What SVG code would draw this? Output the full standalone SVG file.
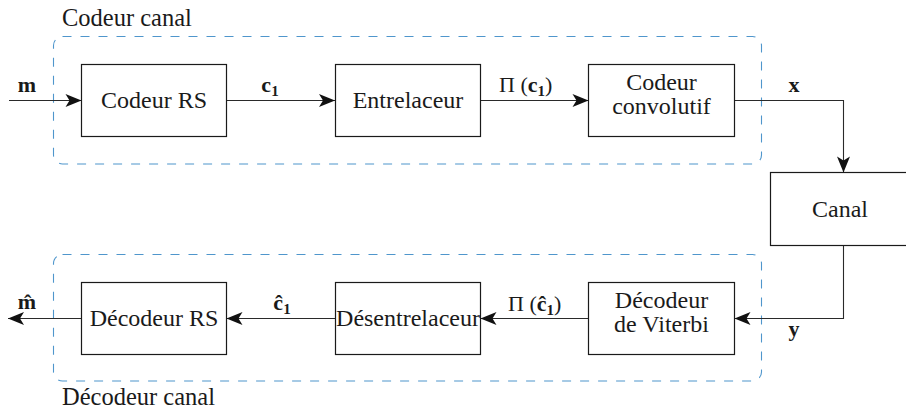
<svg xmlns="http://www.w3.org/2000/svg" width="906" height="412" viewBox="0 0 906 412" font-family="'Liberation Serif', serif">
  <defs>
    <marker id="stealth" markerUnits="userSpaceOnUse" markerWidth="20" markerHeight="16" refX="16" refY="7" orient="auto" overflow="visible">
      <path d="M16,7 L0,0.5 L4,7 L0,13.5 Z" fill="#111"/>
    </marker>
    <style>
      .blk { fill: #fff; stroke: #1a1a1a; stroke-width: 1.2; }
      .grp { fill: none; stroke: #4f96cc; stroke-width: 1.1; stroke-dasharray: 9 9; }
      .wire { fill: none; stroke: #2a2a2a; stroke-width: 1.1; marker-end: url(#stealth); }
      text { font-family: 'Liberation Serif', 'Times New Roman', serif; fill: #1a1a1a; }
      .t { font-size: 24px; text-anchor: middle; }
      .cap { font-size: 24.5px; }
      .lbl { font-size: 22px; font-weight: bold; text-anchor: middle; }
      .sub { font-size: 15px; font-weight: bold; }
      .op { font-size: 22px; }
    </style>
  </defs>

  <!-- dashed sub-system frames -->
  <g id="codeur-canal">
    <rect class="grp" x="53.5" y="36.5" width="708" height="127.5" rx="9"/>
    <text class="cap" x="62" y="26">Codeur canal</text>
  </g>
  <g id="decodeur-canal">
    <rect class="grp" x="53.5" y="254.5" width="708" height="126.5" rx="9"/>
    <text class="cap" x="62" y="405">Décodeur canal</text>
  </g>

  <!-- connectors -->
  <g id="connectors">
    <path class="wire" d="M9,100.5 H81.5"/>
    <path class="wire" d="M226.5,100.5 H335"/>
    <path class="wire" d="M480.5,100.5 H588.5"/>
    <path class="wire" d="M734.5,100.5 H843.5 V172.5"/>
    <path class="wire" d="M843.5,245.5 V318.5 H734.5"/>
    <path class="wire" d="M588.5,318.5 H480.5"/>
    <path class="wire" d="M335.5,318.5 H226.5"/>
    <path class="wire" d="M81.5,318.5 H8"/>

    <!-- signal labels -->
    <text class="lbl" x="27" y="92">m</text>
    <text class="lbl" x="270" y="92">c<tspan class="sub" dy="4">1</tspan></text>
    <text class="op" x="499" y="92">Π (<tspan font-weight="bold">c</tspan><tspan class="sub" dy="4">1</tspan><tspan dy="-4">)</tspan></text>
    <text class="lbl" x="794" y="92">x</text>
    <text class="lbl" x="794" y="336">y</text>
    <text class="op" x="508" y="311">Π (<tspan font-weight="bold">ĉ</tspan><tspan class="sub" dy="4">1</tspan><tspan dy="-4">)</tspan></text>
    <text class="lbl" x="282" y="310">ĉ<tspan class="sub" dy="4">1</tspan></text>
    <text class="lbl" x="27" y="309">m̂</text>
  </g>

  <!-- encoder chain -->
  <g id="codeur-rs">
    <rect class="blk" x="81.5" y="64.5" width="145" height="72"/>
    <text class="t" x="154" y="108">Codeur RS</text>
  </g>
  <g id="entrelaceur">
    <rect class="blk" x="335.5" y="64.5" width="145" height="72"/>
    <text class="t" x="408" y="108">Entrelaceur</text>
  </g>
  <g id="codeur-convolutif">
    <rect class="blk" x="588.5" y="64.5" width="146" height="72"/>
    <text class="t" x="661.5" y="90">Codeur</text>
    <text class="t" x="661.5" y="114">convolutif</text>
  </g>

  <!-- channel -->
  <g id="canal">
    <rect class="blk" x="770.5" y="172.5" width="146" height="73"/>
    <text class="t" x="840" y="217">Canal</text>
  </g>

  <!-- decoder chain -->
  <g id="decodeur-viterbi">
    <rect class="blk" x="588.5" y="282.5" width="146" height="72"/>
    <text class="t" x="661.5" y="308">Décodeur</text>
    <text class="t" x="661.5" y="332">de Viterbi</text>
  </g>
  <g id="desentrelaceur">
    <rect class="blk" x="335.5" y="282.5" width="145" height="72"/>
    <text class="t" x="408" y="326">Désentrelaceur</text>
  </g>
  <g id="decodeur-rs">
    <rect class="blk" x="81.5" y="282.5" width="145" height="72"/>
    <text class="t" x="154" y="326">Décodeur RS</text>
  </g>
</svg>
